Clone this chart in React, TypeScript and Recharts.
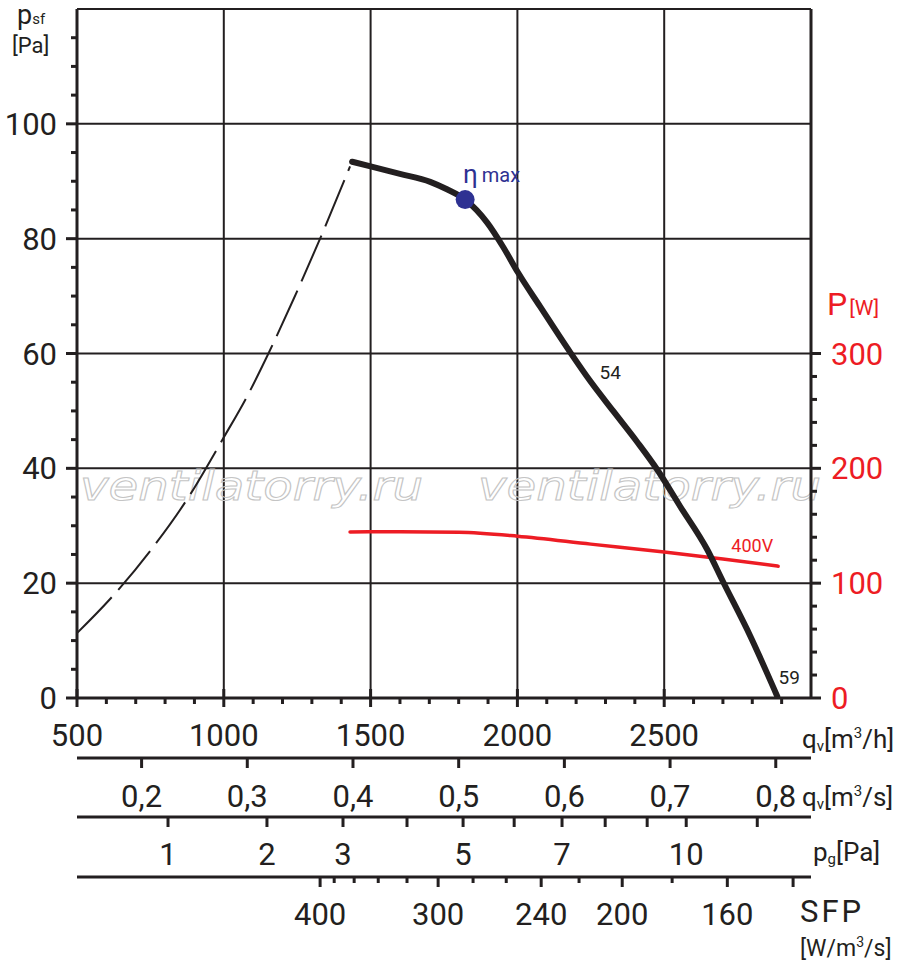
import React from 'react';
import {
  ComposedChart,
  Line,
  Scatter,
  XAxis,
  YAxis,
  CartesianGrid,
  ReferenceDot,
  Customized,
} from 'recharts';

// ---------- data ----------
const qvMajorTicks = [500, 1000, 1500, 2000, 2500];
const qvAllTicks = [500, 600, 700, 800, 900, 1000, 1100, 1200, 1300, 1400, 1500, 1600, 1700, 1800, 1900, 2000, 2100, 2200, 2300, 2400, 2500, 2600, 2700, 2800, 2900];
const psfTicks = [0, 5, 10, 15, 20, 25, 30, 35, 40, 45, 50, 55, 60, 65, 70, 75, 80, 85, 90, 95, 100, 105, 110, 115];
const psfLabels = [0, 20, 40, 60, 80, 100];
const pTicks = [0, 20, 40, 60, 80, 100, 120, 140, 160, 180, 200, 220, 240, 260, 280, 300];
const pLabels = [0, 100, 200, 300];
const m3sTicks = [0.2, 0.3, 0.4, 0.5, 0.6, 0.7, 0.8];
const pgTicks = [1, 2, 3, 4, 5, 6, 7, 8, 9, 10, 12];
const pgTickQv = [810, 1147, 1406, 1624, 1815, 1989, 2152, 2299, 2442, 2575, 2817];
const pgLabels = [1, 2, 3, 5, 7, 10];
const sfpTicks = [400, 380, 360, 340, 320, 300, 280, 260, 240, 220, 200, 180, 160, 140];
const sfpTickQv = [1328, 1376, 1444, 1526, 1624, 1730, 1849, 1962, 2081, 2210, 2357, 2527, 2715, 2939];
const sfpLabels = [400, 300, 240, 200, 160];
const sfpLongTicks = [400, 300, 240, 200, 160, 140];
const gridQv = [1000, 1500, 2000, 2500];
const gridPsf = [20, 40, 60, 80, 100, 120];

const dashedQv = [500, 612, 749, 875, 1000, 1079, 1152, 1237, 1328, 1430];
const dashedPsf = [11.3, 17.2, 25.6, 34.6, 45.4, 52.5, 60, 69.4, 80, 92.6];

const curveQv = [1437, 1500, 1600, 1703, 1760, 1822, 1897, 1951, 2002, 2077, 2180, 2248, 2326, 2408, 2476, 2554, 2646, 2701, 2793, 2885];
const curvePsf = [93.4, 92.6, 91.3, 89.9, 88.6, 86.8, 82.8, 78.6, 74.1, 68.2, 60.2, 55.2, 50.0, 44.6, 39.8, 33.4, 25.9, 20.2, 10.8, 0.3];

const powerQv = [1430, 1600, 1800, 2000, 2250, 2500, 2700, 2888];
const powerW = [144.6, 144.8, 144.3, 140.9, 134, 127.2, 121, 114.8];

const etaQv = [1822];
const etaPsf = [86.8];

const noteText = ['54', '59', '400V'];
const noteQv = [2316, 2926, 2800];
const notePsf = [55.5, 2.4, 25.4];
const noteColor = ['#231f20', '#231f20', '#ed1c24'];

// ---------- tables ----------
const dashedData = dashedQv.map((q, i) => ({ qv: q, psf: dashedPsf[i] }));
const curveData = curveQv.map((q, i) => ({ qv: q, psf: curvePsf[i] }));
const powerData = powerQv.map((q, i) => ({ qv: q, p: powerW[i] }));
const etaData = etaQv.map((q, i) => ({ qv: q, psf: etaPsf[i] }));
const m3sTickQv = m3sTicks.map((v) => v * 3600);
// invisible anchor rows so that the secondary scales get a domain
const scaleAnchor = [{ qv: 500, psf: 0 }, { qv: 3000, psf: 0 }];

const INK = '#231f20';
const RED = '#ed1c24';
const BLUE = '#2e3192';
const FONT = 'Roboto, sans-serif';
const TICK_FS = 31;

const LeftTick = (props: any) => {
  const { x, y, payload } = props;
  const v = payload.value;
  const major = psfLabels.includes(v);
  return (
    <g>
      <line x1={x - (major ? 11 : 6)} x2={x} y1={y} y2={y} stroke={INK} strokeWidth={3} />
      {major && (
        <text x={x - 20} y={y + 11} textAnchor="end" fontSize={TICK_FS} fontFamily={FONT} fill={INK}>
          {v}
        </text>
      )}
    </g>
  );
};

const RightTick = (props: any) => {
  const { x, y, payload } = props;
  const v = payload.value;
  const major = pLabels.includes(v);
  return (
    <g>
      <line x1={x} x2={x + (major ? 10 : 6)} y1={y} y2={y} stroke={INK} strokeWidth={3} />
      {major && (
        <text x={x + 20} y={y + 11} textAnchor="start" fontSize={TICK_FS} fontFamily={FONT} fill={RED}>
          {v}
        </text>
      )}
    </g>
  );
};

const MainXTick = (props: any) => {
  const { x, y, payload } = props;
  const v = payload.value;
  const major = qvMajorTicks.includes(v);
  return (
    <g>
      <line x1={x} x2={x} y1={major ? y - 9 : y} y2={major ? y + 9 : y + 6} stroke={INK} strokeWidth={3} />
      {major && (
        <text x={x} y={y + 48} textAnchor="middle" fontSize={TICK_FS} fontFamily={FONT} fill={INK}>
          {v}
        </text>
      )}
    </g>
  );
};

const M3sTick = (props: any) => {
  const { x, y, payload } = props;
  const idx = m3sTickQv.findIndex((q) => Math.abs(q - payload.value) < 0.5);
  const label = idx >= 0 ? String(m3sTicks[idx]).replace('.', ',') : '';
  return (
    <g>
      <line x1={x} x2={x} y1={y} y2={y + 10} stroke={INK} strokeWidth={3} />
      <text x={x} y={y + 49} textAnchor="middle" fontSize={TICK_FS} fontFamily={FONT} fill={INK}>
        {label}
      </text>
    </g>
  );
};

const PgTick = (props: any) => {
  const { x, y, payload } = props;
  const idx = pgTickQv.indexOf(payload.value);
  const v = pgTicks[idx];
  return (
    <g>
      <line x1={x} x2={x} y1={y} y2={y + 10} stroke={INK} strokeWidth={3} />
      {pgLabels.includes(v) && (
        <text x={x} y={y + 48} textAnchor="middle" fontSize={TICK_FS} fontFamily={FONT} fill={INK}>
          {v}
        </text>
      )}
    </g>
  );
};

const SfpTick = (props: any) => {
  const { x, y, payload } = props;
  const idx = sfpTickQv.indexOf(payload.value);
  const v = sfpTicks[idx];
  const long = sfpLongTicks.includes(v);
  return (
    <g>
      <line x1={x} x2={x} y1={y} y2={y + (long ? 10 : 6)} stroke={INK} strokeWidth={3} />
      {sfpLabels.includes(v) && (
        <text x={x} y={y + 48} textAnchor="middle" fontSize={TICK_FS} fontFamily={FONT} fill={INK}>
          {v}
        </text>
      )}
    </g>
  );
};

const Titles = () => (
  <g fontFamily={FONT}>
    {[80, 478].map((wx) => (
      <text
        key={wx}
        x={wx}
        y={500}
        fontFamily="'DejaVu Sans', sans-serif"
        fontStyle="italic"
        fontSize={40}
        textLength={343}
        lengthAdjust="spacingAndGlyphs"
        fill="none"
        stroke="#c4c4c4"
        strokeWidth={1}
      >
        ventilatorry.ru
      </text>
    ))}
    <text x={17} y={24} fontSize={27} fill={INK}>
      p<tspan fontSize={15}>sf</tspan>
    </text>
    <text x={12} y={53} fontSize={22} fill={INK}>[Pa]</text>
    <text x={827} y={315} fontSize={32} fill={RED}>
      P<tspan fontSize={21} dx={2}>[W]</tspan>
    </text>
    <text x={802} y={748} fontSize={26} fill={INK}>
      q<tspan fontSize={15} dy={3}>v</tspan>
      <tspan dy={-3}>[m</tspan>
      <tspan fontSize={15} dy={-10}>3</tspan>
      <tspan dy={10}>/h]</tspan>
    </text>
    <text x={802} y={806} fontSize={26} fill={INK}>
      q<tspan fontSize={15} dy={3}>v</tspan>
      <tspan dy={-3}>[m</tspan>
      <tspan fontSize={15} dy={-10}>3</tspan>
      <tspan dy={10}>/s]</tspan>
    </text>
    <text x={813} y={861} fontSize={26} fill={INK}>
      p<tspan fontSize={15} dy={3}>g</tspan>
      <tspan dy={-3}>[Pa]</tspan>
    </text>
    <text x={800} y={922} fontSize={31} letterSpacing={3} fill={INK}>SFP</text>
    <text x={800} y={956} fontSize={23} fill={INK}>
      [W/m<tspan fontSize={14} dy={-9}>3</tspan>
      <tspan dy={9}>/s]</tspan>
    </text>
  </g>
);

const EtaDot = (props: any) => <circle cx={props.cx} cy={props.cy} r={9.5} fill={BLUE} />;

const xAxisCommon = {
  dataKey: 'qv',
  type: 'number' as const,
  domain: [500, 3000] as [number, number],
  allowDataOverflow: true,
  interval: 0 as const,
  tickSize: 0,
  tickMargin: 0,
  tickLine: false,
  axisLine: { stroke: INK, strokeWidth: 3 },
};

export default function App() {
  return (
    <div style={{ position: 'absolute', left: 0, top: 0 }}>
      <ComposedChart
        width={900}
        height={967}
        margin={{ top: 9, right: 9, bottom: 10, left: 7 }}
        style={{ fontFamily: FONT }}
      >
        <CartesianGrid
          xAxisId="a_main"
          yAxisId="left"
          horizontalValues={gridPsf}
          verticalValues={gridQv}
          stroke={INK}
          strokeWidth={2}
        />
        <XAxis xAxisId="a_main" {...xAxisCommon} ticks={qvAllTicks} height={60} tick={<MainXTick />} />
        <XAxis xAxisId="b_m3s" {...xAxisCommon} ticks={m3sTickQv} height={59} tick={<M3sTick />} />
        <XAxis xAxisId="c_pg" {...xAxisCommon} ticks={pgTickQv} height={60} tick={<PgTick />} />
        <XAxis xAxisId="d_sfp" {...xAxisCommon} ticks={sfpTickQv} height={80} tick={<SfpTick />} />
        <YAxis
          yAxisId="left"
          orientation="left"
          type="number"
          domain={[0, 120]}
          allowDataOverflow
          ticks={psfTicks}
          interval={0}
          width={70}
          tickSize={0}
          tickMargin={0}
          tick={<LeftTick />}
          tickLine={false}
          axisLine={{ stroke: INK, strokeWidth: 3 }}
        />
        <YAxis
          yAxisId="right"
          orientation="right"
          type="number"
          domain={[0, 600]}
          allowDataOverflow
          ticks={pTicks}
          interval={0}
          width={80}
          tickSize={0}
          tickMargin={0}
          tick={<RightTick />}
          tickLine={false}
          axisLine={{ stroke: INK, strokeWidth: 3 }}
        />
        <Customized component={Titles} />
        {['b_m3s', 'c_pg', 'd_sfp'].map((id) => (
          <Line
            key={id}
            xAxisId={id}
            yAxisId="left"
            data={scaleAnchor}
            dataKey="psf"
            stroke="none"
            dot={false}
            activeDot={false}
            legendType="none"
            isAnimationActive={false}
          />
        ))}
        <Line
          xAxisId="a_main"
          yAxisId="left"
          data={dashedData}
          dataKey="psf"
          type="monotone"
          stroke={INK}
          strokeWidth={2}
          strokeDasharray="50 10"
          dot={false}
          activeDot={false}
          isAnimationActive={false}
        />
        <Line
          xAxisId="a_main"
          yAxisId="right"
          data={powerData}
          dataKey="p"
          type="monotone"
          stroke={RED}
          strokeWidth={3.5}
          strokeLinecap="round"
          dot={false}
          activeDot={false}
          isAnimationActive={false}
        />
        <Line
          xAxisId="a_main"
          yAxisId="left"
          data={curveData}
          dataKey="psf"
          type="monotone"
          stroke={INK}
          strokeWidth={6}
          strokeLinecap="round"
          dot={false}
          activeDot={false}
          isAnimationActive={false}
        />
        <Scatter
          xAxisId="a_main"
          yAxisId="left"
          data={etaData}
          dataKey="psf"
          shape={<EtaDot />}
          isAnimationActive={false}
        />
        <ReferenceDot
          xAxisId="a_main"
          yAxisId="left"
          x={1815}
          y={89.7}
          r={0}
          ifOverflow="visible"
          shape={(p: any) => (
            <text x={p.cx} y={p.cy} fontFamily={FONT} fill={BLUE} fontSize={26}>
              η<tspan fontSize={20} dx={4} dy={-1}>max</tspan>
            </text>
          )}
        />
        {noteText.map((t, i) => (
          <ReferenceDot
            key={t}
            xAxisId="a_main"
            yAxisId="left"
            x={noteQv[i]}
            y={notePsf[i]}
            r={0}
            ifOverflow="visible"
            shape={(p: any) => (
              <text x={p.cx} y={p.cy} textAnchor="middle" fontFamily={FONT} fill={noteColor[i]} fontSize={i === 2 ? 18 : 19}>
                {t}
              </text>
            )}
          />
        ))}
      </ComposedChart>
    </div>
  );
}
